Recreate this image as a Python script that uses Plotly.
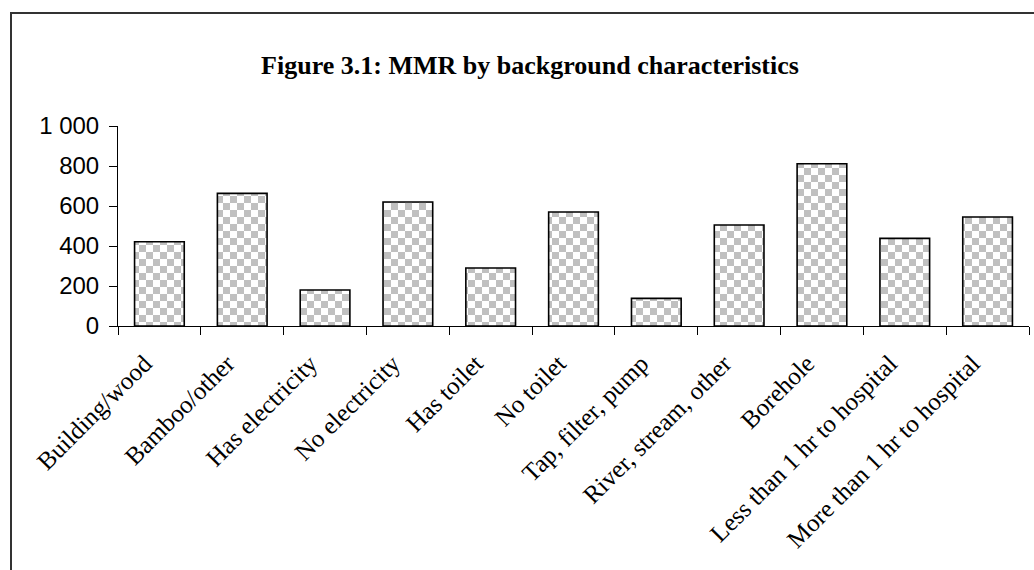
import plotly.graph_objects as go

# Maternal mortality ratio by household / access characteristic
categories = [
    "Building/wood",
    "Bamboo/other",
    "Has electricity",
    "No electricity",
    "Has toilet",
    "No toilet",
    "Tap, filter, pump",
    "River, stream, other",
    "Borehole",
    "Less than 1 hr to hospital",
    "More than 1 hr to hospital",
]
mmr = [421, 663, 180, 620, 290, 570, 138, 505, 811, 438, 545]

y_tickvals = [0, 200, 400, 600, 800, 1000]
y_ticktext = ["0", "200", "400", "600", "800", "1 000"]

TITLE = "Figure 3.1: MMR by background characteristics"

CHECK_FG = "#c0c0c0"
CHECK_BG = "#ffffff"
AXIS_COLOR = "#000000"

fig = go.Figure(
    go.Bar(
        x=categories,
        y=mmr,
        marker=dict(
            color=CHECK_BG,
            line=dict(color="#000000", width=1.6),
            pattern=dict(shape=".", size=14, fgcolor=CHECK_FG, bgcolor=CHECK_BG,
                         fillmode="replace", solidity=0.5),
        ),
        hoverinfo="x+y",
    )
)

fig.update_layout(
    width=1034,
    height=570,
    margin=dict(l=118, r=5, t=126, b=244),
    paper_bgcolor="#ffffff",
    plot_bgcolor="#ffffff",
    bargap=0.4,
    showlegend=False,
    title=dict(
        text=f"<b>{TITLE}</b>",
        font=dict(family="Liberation Serif", size=26, color="#000000"),
        x=530 / 1034,
        xanchor="center",
        xref="container",
        y=1 - 65 / 570,
        yanchor="middle",
        yref="container",
    ),
    xaxis=dict(
        type="category",
        showgrid=False,
        showline=True,
        linecolor=AXIS_COLOR,
        linewidth=1,
        ticks="outside",
        tickson="boundaries",
        ticklen=8,
        tickcolor=AXIS_COLOR,
        tickangle=-45,
        ticklabelstandoff=12,
        ticklabelshift=-15,
        tickfont=dict(family="Liberation Serif", size=25, color="#000000"),
        range=[-0.5, len(categories) - 0.5],
        zeroline=False,
    ),
    yaxis=dict(
        range=[0, 1000],
        tickvals=y_tickvals,
        ticktext=y_ticktext,
        showgrid=False,
        showline=True,
        linecolor=AXIS_COLOR,
        linewidth=1,
        ticks="outside",
        ticklen=8,
        tickcolor=AXIS_COLOR,
        ticklabelstandoff=5,
        tickfont=dict(family="Liberation Sans", size=24, color="#000000"),
        zeroline=False,
    ),
    shapes=[
        # chart-area frame (runs off the right and bottom edges)
        dict(type="rect", xref="paper", yref="paper",
             x0=(11 - 118) / 911, x1=1.2, y0=-1.5, y1=(326 - 13) / 200,
             line=dict(color="#333333", width=2), fillcolor="rgba(0,0,0,0)",
             layer="below"),
    ],
)

# Turn the bar fill pattern into a two-tone checkerboard tile.
post_js = """
(function(){
  var gd = document.getElementById('{plot_id}');
  var ns = 'http://www.w3.org/2000/svg';
  function checker(){
    document.querySelectorAll('pattern').forEach(function(p){
      var s = parseFloat(p.getAttribute('width')) || 14;
      var c = s / 2;
      while (p.firstChild) p.removeChild(p.firstChild);
      function r(x, y, w, h, f){
        var e = document.createElementNS(ns, 'rect');
        e.setAttribute('x', x); e.setAttribute('y', y);
        e.setAttribute('width', w); e.setAttribute('height', h);
        e.setAttribute('fill', f); p.appendChild(e);
      }
      r(0, 0, s, s, '%BG%');
      r(0, 0, c, c, '%FG%');
      r(c, c, c, c, '%FG%');
    });
  }
  checker();
  if (gd && gd.on) gd.on('plotly_afterplot', checker);
})();
""".replace("%BG%", CHECK_BG).replace("%FG%", CHECK_FG)

fig.write_html("out.html", post_script=post_js)
